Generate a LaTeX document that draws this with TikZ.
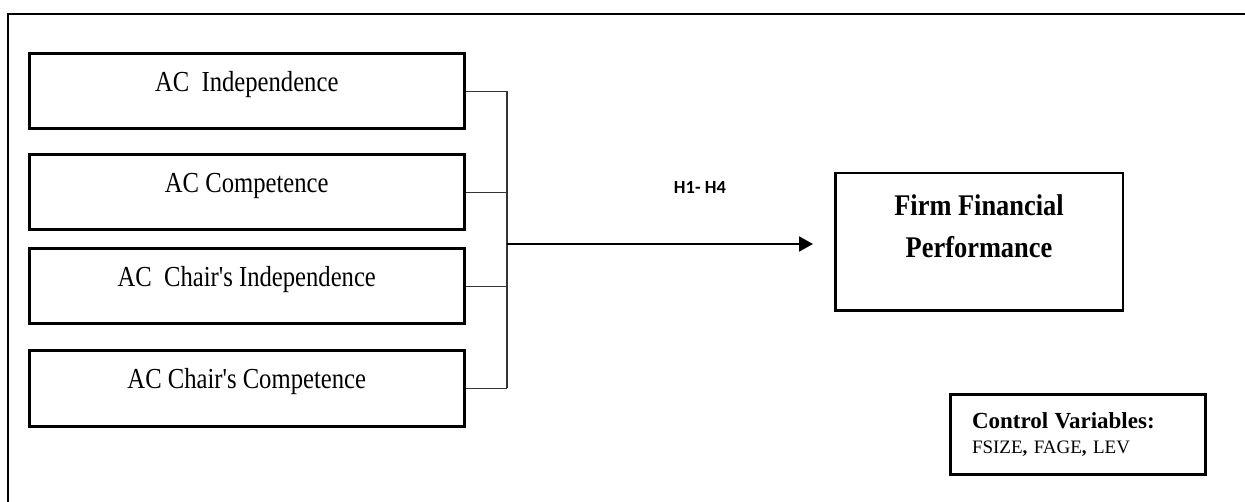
\documentclass[tikz,border=0pt]{standalone}
\usepackage{fontspec}
\setmainfont{Liberation Serif}
\newfontfamily\narrowserif[FakeStretch=0.85]{Liberation Serif}
\newfontfamily\boldserif[FakeStretch=0.88]{Liberation Serif}
\newfontfamily\hypfont{Carlito}
\usetikzlibrary{positioning,arrows.meta}

\tikzset{
  varbox/.style={draw, line width=3pt, minimum width=435pt, inner sep=0pt,
    text height=37.5pt, text depth=37.5pt,
    font=\narrowserif\fontsize{29}{34}\selectfont},
  link/.style={draw=black!80, line width=1.5pt},
  mainarrow/.style={line width=2pt, -{Triangle[length=14pt,width=15pt]}, shorten >=21pt},
}

\begin{document}
\begin{tikzpicture}[x=1pt, y=-1pt]
    \useasboundingbox (0,0) rectangle (1245,502);
    % outer frame (cut at the right and bottom)
    \draw[line width=2pt] (1260,14) -- (7.5,14) -- (7.5,520);

    \node (indep) [varbox] at (246.75,91.5) {AC\ \ Independence};
    \node (comp) [varbox, below=23pt of indep] {AC Competence};
    \node (chairindep) [varbox, below=16pt of comp] {AC\ \ Chair's Independence};
    \node (chaircomp) [varbox, below=24pt of chairindep] {AC Chair's Competence};

    \node (firm) [draw, line width=2.5pt, minimum width=287.5pt, minimum height=137.5pt, inner sep=0pt] at (979,242) {};
    \node (firmtext) [below=22pt of firm.north, inner sep=0pt, align=center,
        font=\boldserif\bfseries\fontsize{30}{42}\selectfont] {Firm Financial\\Performance};

    \node (control) [draw, line width=3pt, minimum width=255pt, minimum height=80pt,
        inner xsep=21.5pt, inner ysep=0pt, text width=212pt, align=left,
        font=\fontsize{19}{25}\selectfont] at (1078,434.5)
        {{\fontsize{23}{25}\selectfont\bfseries Control Variables:}\\FSIZE\textbf{,} FAGE\textbf{,} LEV};

    \coordinate (spine) at (507,244);

    \draw[link] (indep.east) -- (indep.east -| spine);
    \draw[link] (comp.east) -- (comp.east -| spine);
    \draw[link] (chairindep.east) -- (chairindep.east -| spine);
    \draw[link] (chaircomp.east) -- (chaircomp.east -| spine);
    \draw[link] (indep.east -| spine) -- (chaircomp.east -| spine);

    \draw[mainarrow] (spine) -- node (hyp) [pos=0.59, above=49pt, inner sep=0pt,
        font=\hypfont\bfseries\fontsize{18.5}{21}\selectfont] {H1- H4} (spine -| firm.west);
\end{tikzpicture}
\end{document}
